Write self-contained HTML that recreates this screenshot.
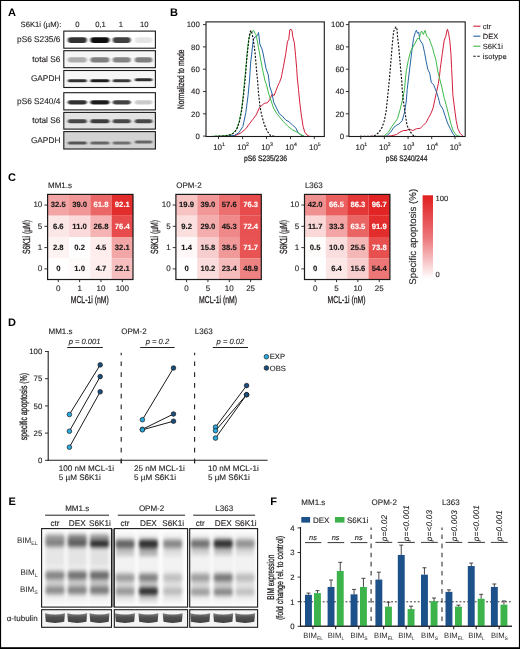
<!DOCTYPE html>
<html><head><meta charset="utf-8"><style>
html,body{margin:0;padding:0;background:#fff;overflow:hidden;width:520px;height:649px;}
svg{display:block;font-family:"Liberation Sans", sans-serif;will-change:transform;text-rendering:geometricPrecision;}
</style></head><body>
<svg width="520" height="649" viewBox="0 0 520 649">
<defs>
<filter id="blA" x="-20%" y="-80%" width="140%" height="260%"><feGaussianBlur stdDeviation="0.9,0.6"/></filter>
<filter id="blE" x="-20%" y="-20%" width="140%" height="140%"><feGaussianBlur stdDeviation="1.5,1.9"/></filter>
<filter id="blT" x="-20%" y="-50%" width="140%" height="200%"><feGaussianBlur stdDeviation="0.7"/></filter>
<linearGradient id="cbar" x1="0" y1="0" x2="0" y2="1"><stop offset="0" stop-color="#e11e1e"/><stop offset="0.5" stop-color="#ec7478"/><stop offset="1" stop-color="#ffffff"/></linearGradient>
<linearGradient id="tub" x1="0" y1="0" x2="0" y2="1"><stop offset="0" stop-color="#858585"/><stop offset="0.4" stop-color="#525252"/><stop offset="1" stop-color="#404040"/></linearGradient>
</defs>
<rect x="0" y="0" width="520" height="649" fill="#fff"/>
<text x="8" y="15.9" font-size="11" font-weight="bold" fill="#000">A</text>
<text x="61.3" y="27.3" font-size="7.7" text-anchor="end" fill="#231f20" stroke="#231f20" stroke-width="0.12">S6K1i (µM):</text>
<text x="77.5" y="27.3" font-size="7.7" text-anchor="middle" fill="#231f20" stroke="#231f20" stroke-width="0.12">0</text>
<text x="100.5" y="27.3" font-size="7.7" text-anchor="middle" fill="#231f20" stroke="#231f20" stroke-width="0.12">0,1</text>
<text x="120.8" y="27.3" font-size="7.7" text-anchor="middle" fill="#231f20" stroke="#231f20" stroke-width="0.12">1</text>
<text x="144.3" y="27.3" font-size="7.7" text-anchor="middle" fill="#231f20" stroke="#231f20" stroke-width="0.12">10</text>
<rect x="63.8" y="31.1" width="91.6" height="17.1" fill="#fff"/>
<g filter="url(#blA)">
<rect x="67.8" y="37.300000000000004" width="19" height="5.6" rx="2.8" fill="rgb(50,50,50)"/>
<rect x="90.4" y="37.300000000000004" width="19" height="5.6" rx="2.8" fill="rgb(17,17,17)"/>
<rect x="112.7" y="37.300000000000004" width="18" height="5.6" rx="2.8" fill="rgb(63,63,63)"/>
<rect x="134.85" y="37.300000000000004" width="17.5" height="5.6" rx="2.8" fill="rgb(229,229,229)"/>
</g>
<rect x="63.8" y="31.1" width="91.6" height="17.1" fill="none" stroke="#1a1a1a" stroke-width="1.1"/>
<text x="60.4" y="41.95" font-size="8.3" text-anchor="end" fill="#231f20" stroke="#231f20" stroke-width="0.12">pS6 S235/6</text>
<rect x="63.8" y="50.7" width="91.6" height="17.0" fill="#f6f6f6"/>
<g filter="url(#blA)">
<rect x="67.8" y="57.199999999999996" width="19" height="5.2" rx="2.6" fill="rgb(173,173,173)"/>
<rect x="90.4" y="57.199999999999996" width="19" height="5.2" rx="2.6" fill="rgb(127,127,127)"/>
<rect x="112.7" y="57.199999999999996" width="18" height="5.2" rx="2.6" fill="rgb(132,132,132)"/>
<rect x="134.85" y="57.199999999999996" width="17.5" height="5.2" rx="2.6" fill="rgb(127,127,127)"/>
</g>
<rect x="63.8" y="50.7" width="91.6" height="17.0" fill="none" stroke="#1a1a1a" stroke-width="1.1"/>
<text x="60.4" y="61.5" font-size="8.3" text-anchor="end" fill="#231f20" stroke="#231f20" stroke-width="0.12">total S6</text>
<rect x="63.8" y="70.5" width="91.6" height="17.0" fill="#f6f6f6"/>
<g filter="url(#blA)">
<rect x="67.8" y="79.2" width="19" height="3.0" rx="1.5" fill="rgb(50,50,50)"/>
<rect x="90.4" y="79.2" width="19" height="3.0" rx="1.5" fill="rgb(30,30,30)"/>
<rect x="112.7" y="79.2" width="18" height="3.0" rx="1.5" fill="rgb(56,56,56)"/>
<rect x="134.85" y="78.2" width="17.5" height="3.0" rx="1.5" fill="rgb(45,45,45)"/>
</g>
<rect x="63.8" y="70.5" width="91.6" height="17.0" fill="none" stroke="#1a1a1a" stroke-width="1.1"/>
<text x="60.4" y="81.3" font-size="8.3" text-anchor="end" fill="#231f20" stroke="#231f20" stroke-width="0.12">GAPDH</text>
<rect x="63.8" y="92.7" width="91.6" height="17.200000000000003" fill="#fff"/>
<g filter="url(#blA)">
<rect x="67.8" y="100.2" width="19" height="4.2" rx="2.1" fill="rgb(50,50,50)"/>
<rect x="90.4" y="100.2" width="19" height="4.2" rx="2.1" fill="rgb(30,30,30)"/>
<rect x="112.7" y="100.2" width="18" height="4.2" rx="2.1" fill="rgb(66,66,66)"/>
<rect x="134.85" y="100.2" width="17.5" height="4.2" rx="2.1" fill="rgb(204,204,204)"/>
</g>
<rect x="63.8" y="92.7" width="91.6" height="17.200000000000003" fill="none" stroke="#1a1a1a" stroke-width="1.1"/>
<text x="60.4" y="103.60000000000001" font-size="8.3" text-anchor="end" fill="#231f20" stroke="#231f20" stroke-width="0.12">pS6 S240/4</text>
<rect x="63.8" y="112.4" width="91.6" height="16.69999999999999" fill="#e3e3e3"/>
<g filter="url(#blA)">
<rect x="67.8" y="119.2" width="19" height="4.0" rx="2.0" fill="rgb(71,71,71)"/>
<rect x="90.4" y="119.2" width="19" height="4.0" rx="2.0" fill="rgb(61,61,61)"/>
<rect x="112.7" y="119.2" width="18" height="4.0" rx="2.0" fill="rgb(71,71,71)"/>
<rect x="134.85" y="119.2" width="17.5" height="4.0" rx="2.0" fill="rgb(71,71,71)"/>
</g>
<rect x="63.8" y="112.4" width="91.6" height="16.69999999999999" fill="none" stroke="#1a1a1a" stroke-width="1.1"/>
<text x="60.4" y="123.05" font-size="8.3" text-anchor="end" fill="#231f20" stroke="#231f20" stroke-width="0.12">total S6</text>
<rect x="63.8" y="131.6" width="91.6" height="17.400000000000006" fill="#d3d3d3"/>
<g filter="url(#blA)">
<rect x="67.8" y="141.4" width="19" height="3.0" rx="1.5" fill="rgb(86,86,86)"/>
<rect x="90.4" y="141.4" width="19" height="3.0" rx="1.5" fill="rgb(102,102,102)"/>
<rect x="112.7" y="141.4" width="18" height="3.0" rx="1.5" fill="rgb(112,112,112)"/>
<rect x="134.85" y="140.4" width="17.5" height="3.0" rx="1.5" fill="rgb(102,102,102)"/>
</g>
<rect x="63.8" y="131.6" width="91.6" height="17.400000000000006" fill="none" stroke="#1a1a1a" stroke-width="1.1"/>
<text x="60.4" y="142.60000000000002" font-size="8.3" text-anchor="end" fill="#231f20" stroke="#231f20" stroke-width="0.12">GAPDH</text>
<text x="170" y="15.9" font-size="11" font-weight="bold" fill="#000">B</text>
<polyline points="225.0,136.3 231.9,136.2 236.5,135.1 241.2,132.8 245.8,128.8 249.2,124.2 252.7,119.5 256.2,114.9 259.6,107.4 264.2,103.4 267.3,102.8 269.6,99.9 271.9,94.7 274.2,95.3 276.0,90.7 277.7,86.1 279.4,82.6 281.2,78.0 281.7,75.4 283.5,66.2 285.8,53.5 287.5,41.3 288.7,39.6 289.8,29.8 291.0,29.2 292.1,31.0 292.7,36.2 294.4,43.1 295.6,55.8 296.7,68.5 297.3,78.0 298.5,89.5 299.6,101.0 301.3,114.9 303.1,126.5 304.8,132.2 307.1,135.1 309.4,136.3 312.0,136.5" fill="none" stroke="#d41f3c" stroke-width="1.0" stroke-linejoin="round"/>
<polyline points="222.0,136.3 228.0,136.0 234.2,135.5 238.8,132.8 242.9,126.5 245.8,112.6 248.1,95.3 249.6,79.0 250.7,62.0 251.6,55.0 252.5,46.0 253.5,39.0 255.0,37.0 256.5,36.5 257.6,35.5 258.5,32.5 259.2,38.0 259.8,44.0 261.9,48.8 263.0,53.0 264.2,59.2 266.0,68.5 268.3,75.0 269.6,86.1 271.9,93.0 273.7,102.2 276.5,108.0 279.4,113.8 282.3,116.1 285.8,120.1 289.2,121.8 292.7,125.3 295.6,127.6 297.9,132.2 300.8,135.1 304.2,136.3" fill="none" stroke="#2463a2" stroke-width="1.0" stroke-linejoin="round"/>
<polyline points="212.0,136.3 220.0,136.0 228.0,135.3 232.0,134.0 236.3,129.8 239.2,121.5 241.5,110.0 243.3,95.0 244.6,80.0 245.8,68.5 247.2,52.0 248.7,39.6 250.5,33.0 252.0,31.5 253.8,30.6 255.0,33.5 256.2,35.0 257.5,42.0 258.5,47.7 260.2,57.0 261.9,66.2 264.8,80.0 266.5,84.9 268.8,94.2 271.2,101.0 273.5,108.0 276.9,113.8 280.0,117.5 283.5,121.8 288.1,126.5 292.7,130.0 297.3,132.2 300.8,134.5 304.2,136.3" fill="none" stroke="#3dba4a" stroke-width="1.0" stroke-linejoin="round"/>
<polyline points="215.0,136.3 225.0,136.0 231.9,134.5 236.5,130.0 239.4,121.8 241.7,110.3 243.5,95.3 245.2,79.0 246.9,58.0 248.7,40.8 249.8,32.7 251.0,30.4 252.0,33.0 253.3,39.6 255.0,52.3 256.7,72.0 257.5,80.0 258.5,93.0 260.2,108.0 261.9,116.0 264.2,124.2 267.1,131.0 270.6,135.7 275.0,136.3" fill="none" stroke="#111" stroke-width="1.15" stroke-linejoin="round" stroke-dasharray="2,1.5"/>
<rect x="206.0" y="21.9" width="118.30000000000001" height="114.6" fill="none" stroke="#1a1a1a" stroke-width="1.1"/>
<line x1="203.0" y1="24.6" x2="206.0" y2="24.6" stroke="#231f20" stroke-width="0.9"/>
<text x="199.8" y="27.400000000000002" font-size="7.8" text-anchor="end" fill="#231f20" stroke="#231f20" stroke-width="0.12">100</text>
<line x1="203.0" y1="46.900000000000006" x2="206.0" y2="46.900000000000006" stroke="#231f20" stroke-width="0.9"/>
<text x="199.8" y="49.7" font-size="7.8" text-anchor="end" fill="#231f20" stroke="#231f20" stroke-width="0.12">80</text>
<line x1="203.0" y1="69.2" x2="206.0" y2="69.2" stroke="#231f20" stroke-width="0.9"/>
<text x="199.8" y="72.0" font-size="7.8" text-anchor="end" fill="#231f20" stroke="#231f20" stroke-width="0.12">60</text>
<line x1="203.0" y1="91.5" x2="206.0" y2="91.5" stroke="#231f20" stroke-width="0.9"/>
<text x="199.8" y="94.3" font-size="7.8" text-anchor="end" fill="#231f20" stroke="#231f20" stroke-width="0.12">40</text>
<line x1="203.0" y1="113.80000000000001" x2="206.0" y2="113.80000000000001" stroke="#231f20" stroke-width="0.9"/>
<text x="199.8" y="116.60000000000001" font-size="7.8" text-anchor="end" fill="#231f20" stroke="#231f20" stroke-width="0.12">20</text>
<line x1="203.0" y1="136.1" x2="206.0" y2="136.1" stroke="#231f20" stroke-width="0.9"/>
<text x="199.8" y="138.9" font-size="7.8" text-anchor="end" fill="#231f20" stroke="#231f20" stroke-width="0.12">0</text>
<line x1="218.5" y1="136.5" x2="218.5" y2="139.1" stroke="#231f20" stroke-width="0.9"/>
<text x="217.6" y="149.7" font-size="8" text-anchor="middle" fill="#231f20" stroke="#231f20" stroke-width="0.12">10</text>
<text x="221.9" y="145.6" font-size="5.2" fill="#231f20" stroke="#231f20" stroke-width="0.12">1</text>
<line x1="242.6" y1="136.5" x2="242.6" y2="139.1" stroke="#231f20" stroke-width="0.9"/>
<text x="241.7" y="149.7" font-size="8" text-anchor="middle" fill="#231f20" stroke="#231f20" stroke-width="0.12">10</text>
<text x="246.0" y="145.6" font-size="5.2" fill="#231f20" stroke="#231f20" stroke-width="0.12">2</text>
<line x1="266.5" y1="136.5" x2="266.5" y2="139.1" stroke="#231f20" stroke-width="0.9"/>
<text x="265.6" y="149.7" font-size="8" text-anchor="middle" fill="#231f20" stroke="#231f20" stroke-width="0.12">10</text>
<text x="269.9" y="145.6" font-size="5.2" fill="#231f20" stroke="#231f20" stroke-width="0.12">3</text>
<line x1="290.5" y1="136.5" x2="290.5" y2="139.1" stroke="#231f20" stroke-width="0.9"/>
<text x="289.6" y="149.7" font-size="8" text-anchor="middle" fill="#231f20" stroke="#231f20" stroke-width="0.12">10</text>
<text x="293.9" y="145.6" font-size="5.2" fill="#231f20" stroke="#231f20" stroke-width="0.12">4</text>
<line x1="314.3" y1="136.5" x2="314.3" y2="139.1" stroke="#231f20" stroke-width="0.9"/>
<text x="313.40000000000003" y="149.7" font-size="8" text-anchor="middle" fill="#231f20" stroke="#231f20" stroke-width="0.12">10</text>
<text x="317.7" y="145.6" font-size="5.2" fill="#231f20" stroke="#231f20" stroke-width="0.12">5</text>
<text x="265.45" y="160.5" font-size="8" text-anchor="middle" fill="#231f20" textLength="43" lengthAdjust="spacingAndGlyphs" stroke="#231f20" stroke-width="0.28">pS6 S235/236</text>
<polyline points="370.0,136.3 387.2,136.3 391.8,135.7 396.5,134.5 399.9,132.2 403.4,130.5 406.0,130.5 409.5,129.3 412.9,130.5 416.4,128.8 420.4,128.2 423.3,125.3 426.2,122.4 428.5,117.8 430.8,113.8 433.1,108.0 434.8,99.9 436.6,91.8 438.3,83.8 439.5,76.0 440.3,68.5 442.3,53.5 444.1,40.8 445.8,36.2 447.0,30.4 447.5,29.2 448.7,33.8 449.8,40.8 451.0,54.6 451.6,68.5 452.2,80.0 452.9,95.3 454.5,108.0 456.2,120.7 457.9,128.8 460.2,133.4 463.1,136.3" fill="none" stroke="#d41f3c" stroke-width="1.0" stroke-linejoin="round"/>
<polyline points="378.0,136.3 386.1,136.3 390.7,132.2 393.6,127.6 396.5,125.3 398.8,124.2 402.2,120.7 404.5,112.6 406.3,101.0 407.2,89.5 408.3,80.0 410.0,66.2 411.8,51.2 413.5,38.5 415.2,32.7 416.4,30.2 417.5,33.3 418.7,32.1 419.8,39.6 421.0,41.9 422.7,44.2 424.5,52.3 426.2,61.5 427.9,69.6 429.7,73.1 430.5,78.0 431.4,82.6 433.7,84.9 436.0,90.7 438.3,97.6 440.0,104.5 442.9,109.2 445.2,116.1 447.5,123.0 450.4,128.8 453.3,134.5 455.6,136.3" fill="none" stroke="#2463a2" stroke-width="1.0" stroke-linejoin="round"/>
<polyline points="375.0,136.3 383.8,136.3 388.4,132.2 391.8,126.5 395.3,121.8 397.6,118.4 399.9,110.3 402.2,101.0 404.5,89.5 405.5,78.0 406.3,70.8 408.3,60.4 410.6,51.2 412.9,47.1 415.2,43.1 417.5,38.5 419.3,38.5 420.4,33.8 421.6,31.0 423.3,34.4 425.0,30.4 426.8,36.2 429.1,38.5 430.8,43.1 432.5,47.7 434.3,54.6 436.0,60.4 437.7,70.8 439.5,78.0 441.8,87.2 444.1,97.6 446.4,105.7 448.7,115.0 451.0,124.2 453.3,131.1 456.8,135.7 460.2,136.3" fill="none" stroke="#3dba4a" stroke-width="1.0" stroke-linejoin="round"/>
<polyline points="360.0,136.3 371.1,136.3 374.5,135.7 378.6,132.8 382.0,127.6 384.3,120.7 386.1,111.5 387.2,101.0 388.4,89.5 389.5,78.0 390.7,63.8 392.4,43.1 393.6,31.5 394.7,29.2 395.9,26.9 397.0,29.2 397.6,37.3 398.8,47.7 399.9,60.4 401.1,74.2 401.7,80.0 402.2,89.5 403.4,101.0 405.1,112.6 406.8,124.2 408.0,127.6 410.6,132.2 413.5,135.7 416.0,136.3" fill="none" stroke="#111" stroke-width="1.15" stroke-linejoin="round" stroke-dasharray="2,1.5"/>
<rect x="348.9" y="21.9" width="116.30000000000001" height="114.6" fill="none" stroke="#1a1a1a" stroke-width="1.1"/>
<line x1="345.9" y1="24.6" x2="348.9" y2="24.6" stroke="#231f20" stroke-width="0.9"/>
<text x="344.09999999999997" y="27.400000000000002" font-size="7.8" text-anchor="end" fill="#231f20" stroke="#231f20" stroke-width="0.12">100</text>
<line x1="345.9" y1="46.900000000000006" x2="348.9" y2="46.900000000000006" stroke="#231f20" stroke-width="0.9"/>
<text x="344.09999999999997" y="49.7" font-size="7.8" text-anchor="end" fill="#231f20" stroke="#231f20" stroke-width="0.12">80</text>
<line x1="345.9" y1="69.2" x2="348.9" y2="69.2" stroke="#231f20" stroke-width="0.9"/>
<text x="344.09999999999997" y="72.0" font-size="7.8" text-anchor="end" fill="#231f20" stroke="#231f20" stroke-width="0.12">60</text>
<line x1="345.9" y1="91.5" x2="348.9" y2="91.5" stroke="#231f20" stroke-width="0.9"/>
<text x="344.09999999999997" y="94.3" font-size="7.8" text-anchor="end" fill="#231f20" stroke="#231f20" stroke-width="0.12">40</text>
<line x1="345.9" y1="113.80000000000001" x2="348.9" y2="113.80000000000001" stroke="#231f20" stroke-width="0.9"/>
<text x="344.09999999999997" y="116.60000000000001" font-size="7.8" text-anchor="end" fill="#231f20" stroke="#231f20" stroke-width="0.12">20</text>
<line x1="345.9" y1="136.1" x2="348.9" y2="136.1" stroke="#231f20" stroke-width="0.9"/>
<text x="344.09999999999997" y="138.9" font-size="7.8" text-anchor="end" fill="#231f20" stroke="#231f20" stroke-width="0.12">0</text>
<line x1="360.8" y1="136.5" x2="360.8" y2="139.1" stroke="#231f20" stroke-width="0.9"/>
<text x="359.90000000000003" y="149.7" font-size="8" text-anchor="middle" fill="#231f20" stroke="#231f20" stroke-width="0.12">10</text>
<text x="364.2" y="145.6" font-size="5.2" fill="#231f20" stroke="#231f20" stroke-width="0.12">1</text>
<line x1="384.4" y1="136.5" x2="384.4" y2="139.1" stroke="#231f20" stroke-width="0.9"/>
<text x="383.5" y="149.7" font-size="8" text-anchor="middle" fill="#231f20" stroke="#231f20" stroke-width="0.12">10</text>
<text x="387.79999999999995" y="145.6" font-size="5.2" fill="#231f20" stroke="#231f20" stroke-width="0.12">2</text>
<line x1="408.1" y1="136.5" x2="408.1" y2="139.1" stroke="#231f20" stroke-width="0.9"/>
<text x="407.20000000000005" y="149.7" font-size="8" text-anchor="middle" fill="#231f20" stroke="#231f20" stroke-width="0.12">10</text>
<text x="411.5" y="145.6" font-size="5.2" fill="#231f20" stroke="#231f20" stroke-width="0.12">3</text>
<line x1="431.7" y1="136.5" x2="431.7" y2="139.1" stroke="#231f20" stroke-width="0.9"/>
<text x="430.8" y="149.7" font-size="8" text-anchor="middle" fill="#231f20" stroke="#231f20" stroke-width="0.12">10</text>
<text x="435.09999999999997" y="145.6" font-size="5.2" fill="#231f20" stroke="#231f20" stroke-width="0.12">4</text>
<line x1="455.0" y1="136.5" x2="455.0" y2="139.1" stroke="#231f20" stroke-width="0.9"/>
<text x="454.1" y="149.7" font-size="8" text-anchor="middle" fill="#231f20" stroke="#231f20" stroke-width="0.12">10</text>
<text x="458.4" y="145.6" font-size="5.2" fill="#231f20" stroke="#231f20" stroke-width="0.12">5</text>
<text x="406.54999999999995" y="160.5" font-size="8" text-anchor="middle" fill="#231f20" textLength="41.5" lengthAdjust="spacingAndGlyphs" stroke="#231f20" stroke-width="0.28">pS6 S240/244</text>
<text transform="translate(183.8,79.2) rotate(-90)" font-size="9.5" text-anchor="middle" fill="#231f20" stroke="#231f20" stroke-width="0.3" textLength="59.5" lengthAdjust="spacingAndGlyphs">Normalized to mode</text>
<line x1="473.3" y1="26.2" x2="480.4" y2="26.2" stroke="#d41f3c" stroke-width="1.1"/>
<text x="482.8" y="28.9" font-size="7.5" fill="#231f20" stroke="#231f20" stroke-width="0.12">ctr</text>
<line x1="473.3" y1="36.2" x2="480.4" y2="36.2" stroke="#2463a2" stroke-width="1.1"/>
<text x="482.8" y="38.900000000000006" font-size="7.5" fill="#231f20" stroke="#231f20" stroke-width="0.12">DEX</text>
<line x1="473.3" y1="46.2" x2="480.4" y2="46.2" stroke="#3dba4a" stroke-width="1.1"/>
<text x="482.8" y="48.900000000000006" font-size="7.5" fill="#231f20" stroke="#231f20" stroke-width="0.12">S6K1i</text>
<line x1="473.3" y1="56.2" x2="480.4" y2="56.2" stroke="#111" stroke-width="1.1" stroke-dasharray="2.4,1.6"/>
<text x="482.8" y="58.900000000000006" font-size="7.5" fill="#231f20" stroke="#231f20" stroke-width="0.12">isotype</text>
<text x="8" y="181.0" font-size="11" font-weight="bold" fill="#000">C</text>
<text x="48.0" y="187.8" font-size="8" fill="#231f20" stroke="#231f20" stroke-width="0.12">MM1.s</text>
<rect x="47.6" y="194.4" width="21.400000000000002" height="21.330000000000002" fill="rgb(243,165,165)"/>
<text x="58.275000000000006" y="207.24" font-size="7.7" font-weight="bold" text-anchor="middle" fill="#151515" stroke="#151515" stroke-width="0.12">32.5</text>
<rect x="68.95" y="194.4" width="21.400000000000002" height="21.330000000000002" fill="rgb(241,151,151)"/>
<text x="79.625" y="207.24" font-size="7.7" font-weight="bold" text-anchor="middle" fill="#151515" stroke="#151515" stroke-width="0.12">39.0</text>
<rect x="90.30000000000001" y="194.4" width="21.400000000000002" height="21.330000000000002" fill="rgb(235,103,103)"/>
<text x="100.97500000000001" y="207.24" font-size="7.7" font-weight="bold" text-anchor="middle" fill="#fff" stroke="#fff" stroke-width="0.12">61.8</text>
<rect x="111.65" y="194.4" width="21.400000000000002" height="21.330000000000002" fill="rgb(227,45,45)"/>
<text x="122.325" y="207.24" font-size="7.7" font-weight="bold" text-anchor="middle" fill="#fff" stroke="#fff" stroke-width="0.12">92.1</text>
<rect x="47.6" y="215.68" width="21.400000000000002" height="21.330000000000002" fill="rgb(252,231,231)"/>
<text x="58.275000000000006" y="228.51999999999998" font-size="7.7" font-weight="bold" text-anchor="middle" fill="#151515" stroke="#151515" stroke-width="0.12">6.6</text>
<rect x="68.95" y="215.68" width="21.400000000000002" height="21.330000000000002" fill="rgb(250,218,218)"/>
<text x="79.625" y="228.51999999999998" font-size="7.7" font-weight="bold" text-anchor="middle" fill="#151515" stroke="#151515" stroke-width="0.12">11.0</text>
<rect x="90.30000000000001" y="215.68" width="21.400000000000002" height="21.330000000000002" fill="rgb(245,179,179)"/>
<text x="100.97500000000001" y="228.51999999999998" font-size="7.7" font-weight="bold" text-anchor="middle" fill="#151515" stroke="#151515" stroke-width="0.12">26.8</text>
<rect x="111.65" y="215.68" width="21.400000000000002" height="21.330000000000002" fill="rgb(231,75,75)"/>
<text x="122.325" y="228.51999999999998" font-size="7.7" font-weight="bold" text-anchor="middle" fill="#fff" stroke="#fff" stroke-width="0.12">76.4</text>
<rect x="47.6" y="236.96" width="21.400000000000002" height="21.330000000000002" fill="rgb(253,243,243)"/>
<text x="58.275000000000006" y="249.8" font-size="7.7" font-weight="bold" text-anchor="middle" fill="#151515" stroke="#151515" stroke-width="0.12">2.8</text>
<rect x="68.95" y="236.96" width="21.400000000000002" height="21.330000000000002" fill="rgb(255,254,254)"/>
<text x="79.625" y="249.8" font-size="7.7" font-weight="bold" text-anchor="middle" fill="#151515" stroke="#151515" stroke-width="0.12">0.2</text>
<rect x="90.30000000000001" y="236.96" width="21.400000000000002" height="21.330000000000002" fill="rgb(253,237,237)"/>
<text x="100.97500000000001" y="249.8" font-size="7.7" font-weight="bold" text-anchor="middle" fill="#151515" stroke="#151515" stroke-width="0.12">4.5</text>
<rect x="111.65" y="236.96" width="21.400000000000002" height="21.330000000000002" fill="rgb(243,166,166)"/>
<text x="122.325" y="249.8" font-size="7.7" font-weight="bold" text-anchor="middle" fill="#151515" stroke="#151515" stroke-width="0.12">32.1</text>
<rect x="47.6" y="258.24" width="21.400000000000002" height="21.330000000000002" fill="rgb(255,255,255)"/>
<text x="58.275000000000006" y="271.08" font-size="7.7" font-weight="bold" text-anchor="middle" fill="#151515" stroke="#151515" stroke-width="0.12">0</text>
<rect x="68.95" y="258.24" width="21.400000000000002" height="21.330000000000002" fill="rgb(254,250,250)"/>
<text x="79.625" y="271.08" font-size="7.7" font-weight="bold" text-anchor="middle" fill="#151515" stroke="#151515" stroke-width="0.12">1.0</text>
<rect x="90.30000000000001" y="258.24" width="21.400000000000002" height="21.330000000000002" fill="rgb(253,237,237)"/>
<text x="100.97500000000001" y="271.08" font-size="7.7" font-weight="bold" text-anchor="middle" fill="#151515" stroke="#151515" stroke-width="0.12">4.7</text>
<rect x="111.65" y="258.24" width="21.400000000000002" height="21.330000000000002" fill="rgb(246,190,190)"/>
<text x="122.325" y="271.08" font-size="7.7" font-weight="bold" text-anchor="middle" fill="#151515" stroke="#151515" stroke-width="0.12">22.1</text>
<rect x="47.6" y="194.4" width="85.4" height="85.12" fill="none" stroke="#1a1a1a" stroke-width="1.2"/>
<line x1="44.4" y1="205.04000000000002" x2="47.6" y2="205.04000000000002" stroke="#231f20" stroke-width="0.9"/>
<text x="42.300000000000004" y="207.34000000000003" font-size="8" text-anchor="end" fill="#231f20" stroke="#231f20" stroke-width="0.12">10</text>
<line x1="44.4" y1="226.32" x2="47.6" y2="226.32" stroke="#231f20" stroke-width="0.9"/>
<text x="42.300000000000004" y="228.62" font-size="8" text-anchor="end" fill="#231f20" stroke="#231f20" stroke-width="0.12">5</text>
<line x1="44.4" y1="247.60000000000002" x2="47.6" y2="247.60000000000002" stroke="#231f20" stroke-width="0.9"/>
<text x="42.300000000000004" y="249.90000000000003" font-size="8" text-anchor="end" fill="#231f20" stroke="#231f20" stroke-width="0.12">1</text>
<line x1="44.4" y1="268.88" x2="47.6" y2="268.88" stroke="#231f20" stroke-width="0.9"/>
<text x="42.300000000000004" y="271.18" font-size="8" text-anchor="end" fill="#231f20" stroke="#231f20" stroke-width="0.12">0</text>
<line x1="58.275000000000006" y1="279.52" x2="58.275000000000006" y2="282.12" stroke="#231f20" stroke-width="0.9"/>
<text x="58.275000000000006" y="291.4" font-size="8" text-anchor="middle" fill="#231f20" stroke="#231f20" stroke-width="0.12">0</text>
<line x1="79.625" y1="279.52" x2="79.625" y2="282.12" stroke="#231f20" stroke-width="0.9"/>
<text x="79.625" y="291.4" font-size="8" text-anchor="middle" fill="#231f20" stroke="#231f20" stroke-width="0.12">1</text>
<line x1="100.97500000000001" y1="279.52" x2="100.97500000000001" y2="282.12" stroke="#231f20" stroke-width="0.9"/>
<text x="100.97500000000001" y="291.4" font-size="8" text-anchor="middle" fill="#231f20" stroke="#231f20" stroke-width="0.12">10</text>
<line x1="122.325" y1="279.52" x2="122.325" y2="282.12" stroke="#231f20" stroke-width="0.9"/>
<text x="122.325" y="291.4" font-size="8" text-anchor="middle" fill="#231f20" stroke="#231f20" stroke-width="0.12">100</text>
<text x="89.70000000000002" y="302.7" font-size="10" text-anchor="middle" fill="#231f20" textLength="38" lengthAdjust="spacingAndGlyphs" stroke="#231f20" stroke-width="0.3">MCL-1i (nM)</text>
<text transform="translate(29.6,237) rotate(-90)" font-size="10.3" text-anchor="middle" fill="#231f20" stroke="#231f20" stroke-width="0.3" textLength="34" lengthAdjust="spacingAndGlyphs">S6K1i (µM)</text>
<text x="176.3" y="187.8" font-size="8" fill="#231f20" stroke="#231f20" stroke-width="0.12">OPM-2</text>
<rect x="175.9" y="194.4" width="21.400000000000002" height="21.330000000000002" fill="rgb(247,195,195)"/>
<text x="186.57500000000002" y="207.24" font-size="7.7" font-weight="bold" text-anchor="middle" fill="#151515" stroke="#151515" stroke-width="0.12">19.9</text>
<rect x="197.25" y="194.4" width="21.400000000000002" height="21.330000000000002" fill="rgb(241,151,151)"/>
<text x="207.925" y="207.24" font-size="7.7" font-weight="bold" text-anchor="middle" fill="#151515" stroke="#151515" stroke-width="0.12">39.0</text>
<rect x="218.60000000000002" y="194.4" width="21.400000000000002" height="21.330000000000002" fill="rgb(236,112,112)"/>
<text x="229.27500000000003" y="207.24" font-size="7.7" font-weight="bold" text-anchor="middle" fill="#151515" stroke="#151515" stroke-width="0.12">57.6</text>
<rect x="239.95000000000002" y="194.4" width="21.400000000000002" height="21.330000000000002" fill="rgb(231,75,75)"/>
<text x="250.62500000000003" y="207.24" font-size="7.7" font-weight="bold" text-anchor="middle" fill="#fff" stroke="#fff" stroke-width="0.12">76.3</text>
<rect x="175.9" y="215.68" width="21.400000000000002" height="21.330000000000002" fill="rgb(251,223,223)"/>
<text x="186.57500000000002" y="228.51999999999998" font-size="7.7" font-weight="bold" text-anchor="middle" fill="#151515" stroke="#151515" stroke-width="0.12">9.2</text>
<rect x="197.25" y="215.68" width="21.400000000000002" height="21.330000000000002" fill="rgb(244,173,173)"/>
<text x="207.925" y="228.51999999999998" font-size="7.7" font-weight="bold" text-anchor="middle" fill="#151515" stroke="#151515" stroke-width="0.12">29.0</text>
<rect x="218.60000000000002" y="215.68" width="21.400000000000002" height="21.330000000000002" fill="rgb(239,137,137)"/>
<text x="229.27500000000003" y="228.51999999999998" font-size="7.7" font-weight="bold" text-anchor="middle" fill="#151515" stroke="#151515" stroke-width="0.12">45.3</text>
<rect x="239.95000000000002" y="215.68" width="21.400000000000002" height="21.330000000000002" fill="rgb(232,82,82)"/>
<text x="250.62500000000003" y="228.51999999999998" font-size="7.7" font-weight="bold" text-anchor="middle" fill="#fff" stroke="#fff" stroke-width="0.12">72.4</text>
<rect x="175.9" y="236.96" width="21.400000000000002" height="21.330000000000002" fill="rgb(254,248,248)"/>
<text x="186.57500000000002" y="249.8" font-size="7.7" font-weight="bold" text-anchor="middle" fill="#151515" stroke="#151515" stroke-width="0.12">1.4</text>
<rect x="197.25" y="236.96" width="21.400000000000002" height="21.330000000000002" fill="rgb(248,205,205)"/>
<text x="207.925" y="249.8" font-size="7.7" font-weight="bold" text-anchor="middle" fill="#151515" stroke="#151515" stroke-width="0.12">15.8</text>
<rect x="218.60000000000002" y="236.96" width="21.400000000000002" height="21.330000000000002" fill="rgb(241,152,152)"/>
<text x="229.27500000000003" y="249.8" font-size="7.7" font-weight="bold" text-anchor="middle" fill="#151515" stroke="#151515" stroke-width="0.12">38.5</text>
<rect x="239.95000000000002" y="236.96" width="21.400000000000002" height="21.330000000000002" fill="rgb(232,84,84)"/>
<text x="250.62500000000003" y="249.8" font-size="7.7" font-weight="bold" text-anchor="middle" fill="#fff" stroke="#fff" stroke-width="0.12">71.7</text>
<rect x="175.9" y="258.24" width="21.400000000000002" height="21.330000000000002" fill="rgb(255,255,255)"/>
<text x="186.57500000000002" y="271.08" font-size="7.7" font-weight="bold" text-anchor="middle" fill="#151515" stroke="#151515" stroke-width="0.12">0</text>
<rect x="197.25" y="258.24" width="21.400000000000002" height="21.330000000000002" fill="rgb(250,220,220)"/>
<text x="207.925" y="271.08" font-size="7.7" font-weight="bold" text-anchor="middle" fill="#151515" stroke="#151515" stroke-width="0.12">10.2</text>
<rect x="218.60000000000002" y="258.24" width="21.400000000000002" height="21.330000000000002" fill="rgb(246,187,187)"/>
<text x="229.27500000000003" y="271.08" font-size="7.7" font-weight="bold" text-anchor="middle" fill="#151515" stroke="#151515" stroke-width="0.12">23.4</text>
<rect x="239.95000000000002" y="258.24" width="21.400000000000002" height="21.330000000000002" fill="rgb(238,130,130)"/>
<text x="250.62500000000003" y="271.08" font-size="7.7" font-weight="bold" text-anchor="middle" fill="#151515" stroke="#151515" stroke-width="0.12">48.9</text>
<rect x="175.9" y="194.4" width="85.4" height="85.12" fill="none" stroke="#1a1a1a" stroke-width="1.2"/>
<line x1="172.70000000000002" y1="205.04000000000002" x2="175.9" y2="205.04000000000002" stroke="#231f20" stroke-width="0.9"/>
<text x="170.6" y="207.34000000000003" font-size="8" text-anchor="end" fill="#231f20" stroke="#231f20" stroke-width="0.12">10</text>
<line x1="172.70000000000002" y1="226.32" x2="175.9" y2="226.32" stroke="#231f20" stroke-width="0.9"/>
<text x="170.6" y="228.62" font-size="8" text-anchor="end" fill="#231f20" stroke="#231f20" stroke-width="0.12">5</text>
<line x1="172.70000000000002" y1="247.60000000000002" x2="175.9" y2="247.60000000000002" stroke="#231f20" stroke-width="0.9"/>
<text x="170.6" y="249.90000000000003" font-size="8" text-anchor="end" fill="#231f20" stroke="#231f20" stroke-width="0.12">1</text>
<line x1="172.70000000000002" y1="268.88" x2="175.9" y2="268.88" stroke="#231f20" stroke-width="0.9"/>
<text x="170.6" y="271.18" font-size="8" text-anchor="end" fill="#231f20" stroke="#231f20" stroke-width="0.12">0</text>
<line x1="186.57500000000002" y1="279.52" x2="186.57500000000002" y2="282.12" stroke="#231f20" stroke-width="0.9"/>
<text x="186.57500000000002" y="291.4" font-size="8" text-anchor="middle" fill="#231f20" stroke="#231f20" stroke-width="0.12">0</text>
<line x1="207.925" y1="279.52" x2="207.925" y2="282.12" stroke="#231f20" stroke-width="0.9"/>
<text x="207.925" y="291.4" font-size="8" text-anchor="middle" fill="#231f20" stroke="#231f20" stroke-width="0.12">5</text>
<line x1="229.27500000000003" y1="279.52" x2="229.27500000000003" y2="282.12" stroke="#231f20" stroke-width="0.9"/>
<text x="229.27500000000003" y="291.4" font-size="8" text-anchor="middle" fill="#231f20" stroke="#231f20" stroke-width="0.12">10</text>
<line x1="250.62500000000003" y1="279.52" x2="250.62500000000003" y2="282.12" stroke="#231f20" stroke-width="0.9"/>
<text x="250.62500000000003" y="291.4" font-size="8" text-anchor="middle" fill="#231f20" stroke="#231f20" stroke-width="0.12">25</text>
<text x="218.00000000000003" y="302.7" font-size="10" text-anchor="middle" fill="#231f20" textLength="38" lengthAdjust="spacingAndGlyphs" stroke="#231f20" stroke-width="0.3">MCL-1i (nM)</text>
<text transform="translate(157.9,237) rotate(-90)" font-size="10.3" text-anchor="middle" fill="#231f20" stroke="#231f20" stroke-width="0.3" textLength="34" lengthAdjust="spacingAndGlyphs">S6K1i (µM)</text>
<text x="304.9" y="187.8" font-size="8" fill="#231f20" stroke="#231f20" stroke-width="0.12">L363</text>
<rect x="304.5" y="194.4" width="21.400000000000002" height="21.330000000000002" fill="rgb(240,145,145)"/>
<text x="315.175" y="207.24" font-size="7.7" font-weight="bold" text-anchor="middle" fill="#151515" stroke="#151515" stroke-width="0.12">42.0</text>
<rect x="325.85" y="194.4" width="21.400000000000002" height="21.330000000000002" fill="rgb(234,94,94)"/>
<text x="336.52500000000003" y="207.24" font-size="7.7" font-weight="bold" text-anchor="middle" fill="#fff" stroke="#fff" stroke-width="0.12">66.5</text>
<rect x="347.2" y="194.4" width="21.400000000000002" height="21.330000000000002" fill="rgb(228,56,56)"/>
<text x="357.875" y="207.24" font-size="7.7" font-weight="bold" text-anchor="middle" fill="#fff" stroke="#fff" stroke-width="0.12">86.3</text>
<rect x="368.55" y="194.4" width="21.400000000000002" height="21.330000000000002" fill="rgb(226,36,36)"/>
<text x="379.225" y="207.24" font-size="7.7" font-weight="bold" text-anchor="middle" fill="#fff" stroke="#fff" stroke-width="0.12">96.7</text>
<rect x="304.5" y="215.68" width="21.400000000000002" height="21.330000000000002" fill="rgb(250,216,216)"/>
<text x="315.175" y="228.51999999999998" font-size="7.7" font-weight="bold" text-anchor="middle" fill="#151515" stroke="#151515" stroke-width="0.12">11.7</text>
<rect x="325.85" y="215.68" width="21.400000000000002" height="21.330000000000002" fill="rgb(243,164,164)"/>
<text x="336.52500000000003" y="228.51999999999998" font-size="7.7" font-weight="bold" text-anchor="middle" fill="#151515" stroke="#151515" stroke-width="0.12">33.3</text>
<rect x="347.2" y="215.68" width="21.400000000000002" height="21.330000000000002" fill="rgb(234,100,100)"/>
<text x="357.875" y="228.51999999999998" font-size="7.7" font-weight="bold" text-anchor="middle" fill="#fff" stroke="#fff" stroke-width="0.12">63.5</text>
<rect x="368.55" y="215.68" width="21.400000000000002" height="21.330000000000002" fill="rgb(227,45,45)"/>
<text x="379.225" y="228.51999999999998" font-size="7.7" font-weight="bold" text-anchor="middle" fill="#fff" stroke="#fff" stroke-width="0.12">91.9</text>
<rect x="304.5" y="236.96" width="21.400000000000002" height="21.330000000000002" fill="rgb(255,252,252)"/>
<text x="315.175" y="249.8" font-size="7.7" font-weight="bold" text-anchor="middle" fill="#151515" stroke="#151515" stroke-width="0.12">0.5</text>
<rect x="325.85" y="236.96" width="21.400000000000002" height="21.330000000000002" fill="rgb(250,221,221)"/>
<text x="336.52500000000003" y="249.8" font-size="7.7" font-weight="bold" text-anchor="middle" fill="#151515" stroke="#151515" stroke-width="0.12">10.0</text>
<rect x="347.2" y="236.96" width="21.400000000000002" height="21.330000000000002" fill="rgb(245,182,182)"/>
<text x="357.875" y="249.8" font-size="7.7" font-weight="bold" text-anchor="middle" fill="#151515" stroke="#151515" stroke-width="0.12">25.5</text>
<rect x="368.55" y="236.96" width="21.400000000000002" height="21.330000000000002" fill="rgb(232,80,80)"/>
<text x="379.225" y="249.8" font-size="7.7" font-weight="bold" text-anchor="middle" fill="#fff" stroke="#fff" stroke-width="0.12">73.8</text>
<rect x="304.5" y="258.24" width="21.400000000000002" height="21.330000000000002" fill="rgb(255,255,255)"/>
<text x="315.175" y="271.08" font-size="7.7" font-weight="bold" text-anchor="middle" fill="#151515" stroke="#151515" stroke-width="0.12">0</text>
<rect x="325.85" y="258.24" width="21.400000000000002" height="21.330000000000002" fill="rgb(252,231,231)"/>
<text x="336.52500000000003" y="271.08" font-size="7.7" font-weight="bold" text-anchor="middle" fill="#151515" stroke="#151515" stroke-width="0.12">6.4</text>
<rect x="347.2" y="258.24" width="21.400000000000002" height="21.330000000000002" fill="rgb(248,206,206)"/>
<text x="357.875" y="271.08" font-size="7.7" font-weight="bold" text-anchor="middle" fill="#151515" stroke="#151515" stroke-width="0.12">15.6</text>
<rect x="368.55" y="258.24" width="21.400000000000002" height="21.330000000000002" fill="rgb(237,118,118)"/>
<text x="379.225" y="271.08" font-size="7.7" font-weight="bold" text-anchor="middle" fill="#151515" stroke="#151515" stroke-width="0.12">54.4</text>
<rect x="304.5" y="194.4" width="85.4" height="85.12" fill="none" stroke="#1a1a1a" stroke-width="1.2"/>
<line x1="301.3" y1="205.04000000000002" x2="304.5" y2="205.04000000000002" stroke="#231f20" stroke-width="0.9"/>
<text x="299.2" y="207.34000000000003" font-size="8" text-anchor="end" fill="#231f20" stroke="#231f20" stroke-width="0.12">10</text>
<line x1="301.3" y1="226.32" x2="304.5" y2="226.32" stroke="#231f20" stroke-width="0.9"/>
<text x="299.2" y="228.62" font-size="8" text-anchor="end" fill="#231f20" stroke="#231f20" stroke-width="0.12">5</text>
<line x1="301.3" y1="247.60000000000002" x2="304.5" y2="247.60000000000002" stroke="#231f20" stroke-width="0.9"/>
<text x="299.2" y="249.90000000000003" font-size="8" text-anchor="end" fill="#231f20" stroke="#231f20" stroke-width="0.12">1</text>
<line x1="301.3" y1="268.88" x2="304.5" y2="268.88" stroke="#231f20" stroke-width="0.9"/>
<text x="299.2" y="271.18" font-size="8" text-anchor="end" fill="#231f20" stroke="#231f20" stroke-width="0.12">0</text>
<line x1="315.175" y1="279.52" x2="315.175" y2="282.12" stroke="#231f20" stroke-width="0.9"/>
<text x="315.175" y="291.4" font-size="8" text-anchor="middle" fill="#231f20" stroke="#231f20" stroke-width="0.12">0</text>
<line x1="336.52500000000003" y1="279.52" x2="336.52500000000003" y2="282.12" stroke="#231f20" stroke-width="0.9"/>
<text x="336.52500000000003" y="291.4" font-size="8" text-anchor="middle" fill="#231f20" stroke="#231f20" stroke-width="0.12">5</text>
<line x1="357.875" y1="279.52" x2="357.875" y2="282.12" stroke="#231f20" stroke-width="0.9"/>
<text x="357.875" y="291.4" font-size="8" text-anchor="middle" fill="#231f20" stroke="#231f20" stroke-width="0.12">10</text>
<line x1="379.225" y1="279.52" x2="379.225" y2="282.12" stroke="#231f20" stroke-width="0.9"/>
<text x="379.225" y="291.4" font-size="8" text-anchor="middle" fill="#231f20" stroke="#231f20" stroke-width="0.12">25</text>
<text x="346.59999999999997" y="302.7" font-size="10" text-anchor="middle" fill="#231f20" textLength="38" lengthAdjust="spacingAndGlyphs" stroke="#231f20" stroke-width="0.3">MCL-1i (nM)</text>
<text transform="translate(286.5,237) rotate(-90)" font-size="10.3" text-anchor="middle" fill="#231f20" stroke="#231f20" stroke-width="0.3" textLength="34" lengthAdjust="spacingAndGlyphs">S6K1i (µM)</text>
<rect x="422.6" y="195.3" width="10.4" height="83.4" fill="url(#cbar)"/>
<text x="435.6" y="200.8" font-size="7.6" fill="#231f20" stroke="#231f20" stroke-width="0.12">100</text>
<text x="435.6" y="276.6" font-size="7.6" fill="#231f20" stroke="#231f20" stroke-width="0.12">0</text>
<text transform="translate(416.3,236.8) rotate(-90)" font-size="9.7" text-anchor="middle" fill="#231f20" stroke="#231f20" stroke-width="0.12">Specific apoptosis (%)</text>
<text x="8" y="325.5" font-size="11" font-weight="bold" fill="#000">D</text>
<line x1="48.2" y1="351.0" x2="48.2" y2="460.8" stroke="#231f20" stroke-width="1.1"/>
<line x1="47.7" y1="460.3" x2="267.6" y2="460.3" stroke="#231f20" stroke-width="1.1"/>
<line x1="45.0" y1="460.3" x2="48.2" y2="460.3" stroke="#231f20" stroke-width="0.9"/>
<text x="42.3" y="463.0" font-size="7.8" text-anchor="end" fill="#231f20" stroke="#231f20" stroke-width="0.12">0</text>
<line x1="45.0" y1="433.1" x2="48.2" y2="433.1" stroke="#231f20" stroke-width="0.9"/>
<text x="42.3" y="435.8" font-size="7.8" text-anchor="end" fill="#231f20" stroke="#231f20" stroke-width="0.12">25</text>
<line x1="45.0" y1="405.9" x2="48.2" y2="405.9" stroke="#231f20" stroke-width="0.9"/>
<text x="42.3" y="408.59999999999997" font-size="7.8" text-anchor="end" fill="#231f20" stroke="#231f20" stroke-width="0.12">50</text>
<line x1="45.0" y1="378.7" x2="48.2" y2="378.7" stroke="#231f20" stroke-width="0.9"/>
<text x="42.3" y="381.4" font-size="7.8" text-anchor="end" fill="#231f20" stroke="#231f20" stroke-width="0.12">75</text>
<line x1="45.0" y1="351.5" x2="48.2" y2="351.5" stroke="#231f20" stroke-width="0.9"/>
<text x="42.3" y="354.2" font-size="7.8" text-anchor="end" fill="#231f20" stroke="#231f20" stroke-width="0.12">100</text>
<text transform="translate(27.3,406.6) rotate(-90)" font-size="10" text-anchor="middle" fill="#231f20" stroke="#231f20" stroke-width="0.3" textLength="67.2" lengthAdjust="spacingAndGlyphs">specific apoptosis (%)</text>
<line x1="121.2" y1="352.7" x2="121.2" y2="464" stroke="#231f20" stroke-width="1.1" stroke-dasharray="4.7,6.1" stroke-dashoffset="2.1"/>
<line x1="121.2" y1="460.3" x2="121.2" y2="463.3" stroke="#231f20" stroke-width="1.0"/>
<line x1="194.6" y1="352.7" x2="194.6" y2="464" stroke="#231f20" stroke-width="1.1" stroke-dasharray="4.7,6.1" stroke-dashoffset="2.1"/>
<line x1="194.6" y1="460.3" x2="194.6" y2="463.3" stroke="#231f20" stroke-width="1.0"/>
<text x="48.5" y="333.5" font-size="8" fill="#231f20" stroke="#231f20" stroke-width="0.12">MM1.s</text>
<text x="121.3" y="333.5" font-size="8" fill="#231f20" stroke="#231f20" stroke-width="0.12">OPM-2</text>
<text x="194.8" y="333.5" font-size="8" fill="#231f20" stroke="#231f20" stroke-width="0.12">L363</text>
<text x="84.6" y="343.7" font-size="7.6" font-style="italic" text-anchor="middle" fill="#231f20" stroke="#231f20" stroke-width="0.12">p = 0.001</text>
<line x1="67.2" y1="347.5" x2="102.8" y2="347.5" stroke="#231f20" stroke-width="1.0"/>
<text x="157.4" y="343.7" font-size="7.6" font-style="italic" text-anchor="middle" fill="#231f20" stroke="#231f20" stroke-width="0.12">p = 0.2</text>
<line x1="140.2" y1="347.5" x2="174.6" y2="347.5" stroke="#231f20" stroke-width="1.0"/>
<text x="230.4" y="343.7" font-size="7.6" font-style="italic" text-anchor="middle" fill="#231f20" stroke="#231f20" stroke-width="0.12">p = 0.02</text>
<line x1="212.8" y1="347.5" x2="248.0" y2="347.5" stroke="#231f20" stroke-width="1.0"/>
<line x1="69.4" y1="414.5" x2="100.2" y2="364.9" stroke="#1a1a1a" stroke-width="1.0"/>
<line x1="69.4" y1="431.2" x2="100.2" y2="376.6" stroke="#1a1a1a" stroke-width="1.0"/>
<line x1="69.4" y1="447.2" x2="100.2" y2="391.8" stroke="#1a1a1a" stroke-width="1.0"/>
<circle cx="69.4" cy="414.5" r="2.3" fill="#29aae1" stroke="#1a1a1a" stroke-width="0.7"/>
<circle cx="100.2" cy="364.9" r="2.3" fill="#1b4e80" stroke="#1a1a1a" stroke-width="0.7"/>
<circle cx="69.4" cy="431.2" r="2.3" fill="#29aae1" stroke="#1a1a1a" stroke-width="0.7"/>
<circle cx="100.2" cy="376.6" r="2.3" fill="#1b4e80" stroke="#1a1a1a" stroke-width="0.7"/>
<circle cx="69.4" cy="447.2" r="2.3" fill="#29aae1" stroke="#1a1a1a" stroke-width="0.7"/>
<circle cx="100.2" cy="391.8" r="2.3" fill="#1b4e80" stroke="#1a1a1a" stroke-width="0.7"/>
<line x1="142.4" y1="419.7" x2="173.5" y2="368.0" stroke="#1a1a1a" stroke-width="1.0"/>
<line x1="142.4" y1="429.3" x2="173.5" y2="414.0" stroke="#1a1a1a" stroke-width="1.0"/>
<line x1="142.4" y1="429.8" x2="173.5" y2="421.2" stroke="#1a1a1a" stroke-width="1.0"/>
<circle cx="142.4" cy="419.7" r="2.3" fill="#29aae1" stroke="#1a1a1a" stroke-width="0.7"/>
<circle cx="173.5" cy="368.0" r="2.3" fill="#1b4e80" stroke="#1a1a1a" stroke-width="0.7"/>
<circle cx="142.4" cy="429.3" r="2.3" fill="#29aae1" stroke="#1a1a1a" stroke-width="0.7"/>
<circle cx="173.5" cy="414.0" r="2.3" fill="#1b4e80" stroke="#1a1a1a" stroke-width="0.7"/>
<circle cx="142.4" cy="429.8" r="2.3" fill="#29aae1" stroke="#1a1a1a" stroke-width="0.7"/>
<circle cx="173.5" cy="421.2" r="2.3" fill="#1b4e80" stroke="#1a1a1a" stroke-width="0.7"/>
<line x1="215.5" y1="427.1" x2="246.6" y2="385.6" stroke="#1a1a1a" stroke-width="1.0"/>
<line x1="215.5" y1="430.7" x2="246.6" y2="394.7" stroke="#1a1a1a" stroke-width="1.0"/>
<line x1="215.5" y1="438.1" x2="246.6" y2="394.7" stroke="#1a1a1a" stroke-width="1.0"/>
<circle cx="215.5" cy="427.1" r="2.3" fill="#29aae1" stroke="#1a1a1a" stroke-width="0.7"/>
<circle cx="246.6" cy="385.6" r="2.3" fill="#1b4e80" stroke="#1a1a1a" stroke-width="0.7"/>
<circle cx="215.5" cy="430.7" r="2.3" fill="#29aae1" stroke="#1a1a1a" stroke-width="0.7"/>
<circle cx="246.6" cy="394.7" r="2.3" fill="#1b4e80" stroke="#1a1a1a" stroke-width="0.7"/>
<circle cx="215.5" cy="438.1" r="2.3" fill="#29aae1" stroke="#1a1a1a" stroke-width="0.7"/>
<circle cx="246.6" cy="394.7" r="2.3" fill="#1b4e80" stroke="#1a1a1a" stroke-width="0.7"/>
<circle cx="266.4" cy="356.7" r="2.3" fill="#29aae1" stroke="#1a1a1a" stroke-width="0.7"/>
<circle cx="266.4" cy="368.0" r="2.3" fill="#1b4e80" stroke="#1a1a1a" stroke-width="0.7"/>
<text x="269.8" y="359.4" font-size="7.6" fill="#231f20" stroke="#231f20" stroke-width="0.12">EXP</text>
<text x="269.8" y="370.7" font-size="7.6" fill="#231f20" stroke="#231f20" stroke-width="0.12">OBS</text>
<text x="58.8" y="471.0" font-size="8.1" fill="#231f20" stroke="#231f20" stroke-width="0.12">100 nM MCL-1i</text>
<text x="58.8" y="480.4" font-size="8.1" fill="#231f20" stroke="#231f20" stroke-width="0.12">5 µM S6K1i</text>
<text x="134.0" y="471.0" font-size="8.1" fill="#231f20" stroke="#231f20" stroke-width="0.12">25 nM MCL-1i</text>
<text x="134.0" y="480.4" font-size="8.1" fill="#231f20" stroke="#231f20" stroke-width="0.12">5 µM S6K1i</text>
<text x="207.9" y="471.0" font-size="8.1" fill="#231f20" stroke="#231f20" stroke-width="0.12">10 nM MCL-1i</text>
<text x="207.9" y="480.4" font-size="8.1" fill="#231f20" stroke="#231f20" stroke-width="0.12">5 µM S6K1i</text>
<text x="8.4" y="504.6" font-size="11" font-weight="bold" fill="#000">E</text>
<rect x="111.6" y="528.6" width="2.6" height="78.6" fill="#8a8a8a"/>
<rect x="41.6" y="528.6" width="69.9" height="78.5" fill="#fdfdfd"/>
<g filter="url(#blE)">
<rect x="44.5" y="533" width="21" height="70" fill="#000" fill-opacity="0.045"/>
<rect x="66.7" y="533" width="21" height="70" fill="#000" fill-opacity="0.045"/>
<rect x="89.0" y="533" width="21" height="70" fill="#000" fill-opacity="0.045"/>
<rect x="46.0" y="548" width="18" height="18" fill="#000" fill-opacity="0.050"/>
<rect x="68.2" y="548" width="18" height="18" fill="#000" fill-opacity="0.060"/>
<rect x="90.5" y="548" width="18" height="18" fill="#000" fill-opacity="0.070"/>
<rect x="46.0" y="579" width="18" height="7" fill="#000" fill-opacity="0.120"/>
<rect x="68.2" y="579" width="18" height="7" fill="#000" fill-opacity="0.140"/>
<rect x="90.5" y="579" width="18" height="7" fill="#000" fill-opacity="0.160"/>
<rect x="45.0" y="533.1" width="20" height="15.0" rx="4" fill="#000" fill-opacity="0.076"/>
<rect x="45.4" y="535.1" width="19.2" height="11.0" rx="3" fill="#000" fill-opacity="0.334"/>
<rect x="67.2" y="533.1" width="20" height="15.0" rx="4" fill="#000" fill-opacity="0.100"/>
<rect x="67.60000000000001" y="535.1" width="19.2" height="11.0" rx="3" fill="#000" fill-opacity="0.440"/>
<rect x="89.5" y="533.1" width="20" height="15.0" rx="4" fill="#000" fill-opacity="0.084"/>
<rect x="89.9" y="535.1" width="19.2" height="11.0" rx="3" fill="#000" fill-opacity="0.370"/>
<rect x="45.0" y="539.95" width="20" height="8.5" rx="4" fill="#000" fill-opacity="0.040"/>
<rect x="45.4" y="541.95" width="19.2" height="4.5" rx="3" fill="#000" fill-opacity="0.176"/>
<rect x="67.2" y="539.95" width="20" height="8.5" rx="4" fill="#000" fill-opacity="0.070"/>
<rect x="67.60000000000001" y="541.95" width="19.2" height="4.5" rx="3" fill="#000" fill-opacity="0.308"/>
<rect x="89.5" y="539.95" width="20" height="8.5" rx="4" fill="#000" fill-opacity="0.200"/>
<rect x="89.9" y="541.95" width="19.2" height="4.5" rx="3" fill="#000" fill-opacity="0.880"/>
<rect x="45.0" y="569.45" width="20" height="11.5" rx="4" fill="#000" fill-opacity="0.092"/>
<rect x="45.4" y="571.45" width="19.2" height="7.5" rx="3" fill="#000" fill-opacity="0.405"/>
<rect x="67.2" y="569.45" width="20" height="11.5" rx="4" fill="#000" fill-opacity="0.110"/>
<rect x="67.60000000000001" y="571.45" width="19.2" height="7.5" rx="3" fill="#000" fill-opacity="0.484"/>
<rect x="89.5" y="569.45" width="20" height="11.5" rx="4" fill="#000" fill-opacity="0.116"/>
<rect x="89.9" y="571.45" width="19.2" height="7.5" rx="3" fill="#000" fill-opacity="0.510"/>
<rect x="45.0" y="584.45" width="20" height="11.5" rx="4" fill="#000" fill-opacity="0.084"/>
<rect x="45.4" y="586.45" width="19.2" height="7.5" rx="3" fill="#000" fill-opacity="0.370"/>
<rect x="67.2" y="584.45" width="20" height="11.5" rx="4" fill="#000" fill-opacity="0.092"/>
<rect x="67.60000000000001" y="586.45" width="19.2" height="7.5" rx="3" fill="#000" fill-opacity="0.405"/>
<rect x="89.5" y="584.45" width="20" height="11.5" rx="4" fill="#000" fill-opacity="0.100"/>
<rect x="89.9" y="586.45" width="19.2" height="7.5" rx="3" fill="#000" fill-opacity="0.440"/>
</g>
<rect x="41.6" y="528.6" width="69.9" height="78.5" fill="none" stroke="#1a1a1a" stroke-width="1.1"/>
<rect x="41.6" y="609.7" width="69.9" height="17.6" fill="#f4f4f4"/>
<g filter="url(#blT)">
<path d="M45.0,613.2 Q55.0,616.0 65.0,613.2 L64.2,621.8 Q55.0,624.0 45.8,621.8 Z" fill="url(#tub)"/>
<path d="M67.2,613.2 Q77.2,616.0 87.2,613.2 L86.4,621.8 Q77.2,624.0 68.0,621.8 Z" fill="url(#tub)"/>
<path d="M89.5,613.2 Q99.5,616.0 109.5,613.2 L108.7,621.8 Q99.5,624.0 90.3,621.8 Z" fill="url(#tub)"/>
</g>
<rect x="41.6" y="609.7" width="69.9" height="17.6" fill="none" stroke="#1a1a1a" stroke-width="1.1"/>
<text x="77.14999999999999" y="511.3" font-size="8" text-anchor="middle" fill="#231f20" stroke="#231f20" stroke-width="0.12">MM1.s</text>
<line x1="45.1" y1="515.2" x2="109.0" y2="515.2" stroke="#231f20" stroke-width="1.0"/>
<text x="55.0" y="525.6" font-size="8.2" text-anchor="middle" fill="#231f20" stroke="#231f20" stroke-width="0.12">ctr</text>
<text x="77.2" y="525.6" font-size="8.2" text-anchor="middle" fill="#231f20" stroke="#231f20" stroke-width="0.12">DEX</text>
<text x="100.0" y="525.6" font-size="8.2" text-anchor="middle" fill="#231f20" stroke="#231f20" stroke-width="0.12">S6K1i</text>
<rect x="114.3" y="528.6" width="73.3" height="78.5" fill="#fdfdfd"/>
<g filter="url(#blE)">
<rect x="114.5" y="533" width="21" height="70" fill="#000" fill-opacity="0.045"/>
<rect x="137.9" y="533" width="21" height="70" fill="#000" fill-opacity="0.045"/>
<rect x="162.2" y="533" width="21" height="70" fill="#000" fill-opacity="0.045"/>
<rect x="116.0" y="547" width="18" height="9" fill="#000" fill-opacity="0.180"/>
<rect x="139.4" y="547" width="18" height="9" fill="#000" fill-opacity="0.280"/>
<rect x="163.7" y="547" width="18" height="9" fill="#000" fill-opacity="0.080"/>
<rect x="116.0" y="581" width="18" height="6" fill="#000" fill-opacity="0.100"/>
<rect x="139.4" y="581" width="18" height="6" fill="#000" fill-opacity="0.140"/>
<rect x="163.7" y="581" width="18" height="6" fill="#000" fill-opacity="0.060"/>
<rect x="116.0" y="595" width="18" height="7" fill="#000" fill-opacity="0.040"/>
<rect x="139.4" y="595" width="18" height="7" fill="#000" fill-opacity="0.120"/>
<rect x="163.7" y="595" width="18" height="7" fill="#000" fill-opacity="0.030"/>
<rect x="115.0" y="538.05" width="20" height="11.5" rx="4" fill="#000" fill-opacity="0.124"/>
<rect x="115.4" y="540.05" width="19.2" height="7.5" rx="3" fill="#000" fill-opacity="0.546"/>
<rect x="138.4" y="538.05" width="20" height="11.5" rx="4" fill="#000" fill-opacity="0.180"/>
<rect x="138.8" y="540.05" width="19.2" height="7.5" rx="3" fill="#000" fill-opacity="0.792"/>
<rect x="162.7" y="538.05" width="20" height="11.5" rx="4" fill="#000" fill-opacity="0.090"/>
<rect x="163.1" y="540.05" width="19.2" height="7.5" rx="3" fill="#000" fill-opacity="0.396"/>
<rect x="115.0" y="572.0" width="20" height="11.0" rx="4" fill="#000" fill-opacity="0.072"/>
<rect x="115.4" y="574.0" width="19.2" height="7.0" rx="3" fill="#000" fill-opacity="0.317"/>
<rect x="138.4" y="572.0" width="20" height="11.0" rx="4" fill="#000" fill-opacity="0.096"/>
<rect x="138.8" y="574.0" width="19.2" height="7.0" rx="3" fill="#000" fill-opacity="0.422"/>
<rect x="162.7" y="572.0" width="20" height="11.0" rx="4" fill="#000" fill-opacity="0.040"/>
<rect x="163.1" y="574.0" width="19.2" height="7.0" rx="3" fill="#000" fill-opacity="0.176"/>
<rect x="115.0" y="585.8" width="20" height="11.0" rx="4" fill="#000" fill-opacity="0.076"/>
<rect x="115.4" y="587.8" width="19.2" height="7.0" rx="3" fill="#000" fill-opacity="0.334"/>
<rect x="138.4" y="585.8" width="20" height="11.0" rx="4" fill="#000" fill-opacity="0.180"/>
<rect x="138.8" y="587.8" width="19.2" height="7.0" rx="3" fill="#000" fill-opacity="0.792"/>
<rect x="162.7" y="585.8" width="20" height="11.0" rx="4" fill="#000" fill-opacity="0.044"/>
<rect x="163.1" y="587.8" width="19.2" height="7.0" rx="3" fill="#000" fill-opacity="0.194"/>
</g>
<rect x="114.3" y="528.6" width="73.3" height="78.5" fill="none" stroke="#1a1a1a" stroke-width="1.1"/>
<rect x="114.3" y="609.7" width="73.3" height="17.6" fill="#f4f4f4"/>
<g filter="url(#blT)">
<path d="M115.0,613.2 Q125.0,616.0 135.0,613.2 L134.2,621.8 Q125.0,624.0 115.8,621.8 Z" fill="url(#tub)"/>
<path d="M138.4,613.2 Q148.4,616.0 158.4,613.2 L157.6,621.8 Q148.4,624.0 139.20000000000002,621.8 Z" fill="url(#tub)"/>
<path d="M162.7,613.2 Q172.7,616.0 182.7,613.2 L181.89999999999998,621.8 Q172.7,624.0 163.5,621.8 Z" fill="url(#tub)"/>
</g>
<rect x="114.3" y="609.7" width="73.3" height="17.6" fill="none" stroke="#1a1a1a" stroke-width="1.1"/>
<text x="151.54999999999998" y="511.3" font-size="8" text-anchor="middle" fill="#231f20" stroke="#231f20" stroke-width="0.12">OPM-2</text>
<line x1="117.8" y1="515.2" x2="185.1" y2="515.2" stroke="#231f20" stroke-width="1.0"/>
<text x="125.0" y="525.6" font-size="8.2" text-anchor="middle" fill="#231f20" stroke="#231f20" stroke-width="0.12">ctr</text>
<text x="148.4" y="525.6" font-size="8.2" text-anchor="middle" fill="#231f20" stroke="#231f20" stroke-width="0.12">DEX</text>
<text x="173.2" y="525.6" font-size="8.2" text-anchor="middle" fill="#231f20" stroke="#231f20" stroke-width="0.12">S6K1i</text>
<rect x="189.7" y="528.6" width="67.90000000000003" height="78.5" fill="#fdfdfd"/>
<g filter="url(#blE)">
<rect x="189.7" y="533" width="21" height="70" fill="#000" fill-opacity="0.045"/>
<rect x="212.7" y="533" width="21" height="70" fill="#000" fill-opacity="0.045"/>
<rect x="234.6" y="533" width="21" height="70" fill="#000" fill-opacity="0.045"/>
<rect x="191.2" y="547" width="18" height="8" fill="#000" fill-opacity="0.140"/>
<rect x="214.2" y="547" width="18" height="8" fill="#000" fill-opacity="0.200"/>
<rect x="236.1" y="547" width="18" height="8" fill="#000" fill-opacity="0.100"/>
<rect x="191.2" y="581" width="18" height="7" fill="#000" fill-opacity="0.100"/>
<rect x="214.2" y="581" width="18" height="7" fill="#000" fill-opacity="0.140"/>
<rect x="236.1" y="581" width="18" height="7" fill="#000" fill-opacity="0.060"/>
<rect x="190.2" y="537.75" width="20" height="11.5" rx="4" fill="#000" fill-opacity="0.110"/>
<rect x="190.6" y="539.75" width="19.2" height="7.5" rx="3" fill="#000" fill-opacity="0.484"/>
<rect x="213.2" y="537.75" width="20" height="11.5" rx="4" fill="#000" fill-opacity="0.176"/>
<rect x="213.6" y="539.75" width="19.2" height="7.5" rx="3" fill="#000" fill-opacity="0.774"/>
<rect x="235.1" y="537.75" width="20" height="11.5" rx="4" fill="#000" fill-opacity="0.080"/>
<rect x="235.5" y="539.75" width="19.2" height="7.5" rx="3" fill="#000" fill-opacity="0.352"/>
<rect x="190.2" y="572.0" width="20" height="11.0" rx="4" fill="#000" fill-opacity="0.070"/>
<rect x="190.6" y="574.0" width="19.2" height="7.0" rx="3" fill="#000" fill-opacity="0.308"/>
<rect x="213.2" y="572.0" width="20" height="11.0" rx="4" fill="#000" fill-opacity="0.104"/>
<rect x="213.6" y="574.0" width="19.2" height="7.0" rx="3" fill="#000" fill-opacity="0.458"/>
<rect x="235.1" y="572.0" width="20" height="11.0" rx="4" fill="#000" fill-opacity="0.044"/>
<rect x="235.5" y="574.0" width="19.2" height="7.0" rx="3" fill="#000" fill-opacity="0.194"/>
<rect x="190.2" y="586.75" width="20" height="10.5" rx="4" fill="#000" fill-opacity="0.072"/>
<rect x="190.6" y="588.75" width="19.2" height="6.5" rx="3" fill="#000" fill-opacity="0.317"/>
<rect x="213.2" y="586.75" width="20" height="10.5" rx="4" fill="#000" fill-opacity="0.092"/>
<rect x="213.6" y="588.75" width="19.2" height="6.5" rx="3" fill="#000" fill-opacity="0.405"/>
<rect x="235.1" y="586.75" width="20" height="10.5" rx="4" fill="#000" fill-opacity="0.040"/>
<rect x="235.5" y="588.75" width="19.2" height="6.5" rx="3" fill="#000" fill-opacity="0.176"/>
</g>
<rect x="189.7" y="528.6" width="67.90000000000003" height="78.5" fill="none" stroke="#1a1a1a" stroke-width="1.1"/>
<rect x="189.7" y="609.7" width="67.90000000000003" height="17.6" fill="#f4f4f4"/>
<g filter="url(#blT)">
<path d="M190.2,613.2 Q200.2,616.0 210.2,613.2 L209.39999999999998,621.8 Q200.2,624.0 191.0,621.8 Z" fill="url(#tub)"/>
<path d="M213.2,613.2 Q223.2,616.0 233.2,613.2 L232.39999999999998,621.8 Q223.2,624.0 214.0,621.8 Z" fill="url(#tub)"/>
<path d="M235.1,613.2 Q245.1,616.0 255.1,613.2 L254.29999999999998,621.8 Q245.1,624.0 235.9,621.8 Z" fill="url(#tub)"/>
</g>
<rect x="189.7" y="609.7" width="67.90000000000003" height="17.6" fill="none" stroke="#1a1a1a" stroke-width="1.1"/>
<text x="224.25" y="511.3" font-size="8" text-anchor="middle" fill="#231f20" stroke="#231f20" stroke-width="0.12">L363</text>
<line x1="193.2" y1="515.2" x2="255.10000000000002" y2="515.2" stroke="#231f20" stroke-width="1.0"/>
<text x="200.2" y="525.6" font-size="8.2" text-anchor="middle" fill="#231f20" stroke="#231f20" stroke-width="0.12">ctr</text>
<text x="223.2" y="525.6" font-size="8.2" text-anchor="middle" fill="#231f20" stroke="#231f20" stroke-width="0.12">DEX</text>
<text x="245.6" y="525.6" font-size="8.2" text-anchor="middle" fill="#231f20" stroke="#231f20" stroke-width="0.12">S6K1i</text>
<text x="37.6" y="543.3" font-size="8" text-anchor="end" fill="#231f20">BIM<tspan font-size="5.2" dy="2">EL</tspan></text>
<text x="37.6" y="574.6" font-size="8" text-anchor="end" fill="#231f20">BIM<tspan font-size="5.2" dy="2">L</tspan></text>
<text x="37.6" y="591.6" font-size="8" text-anchor="end" fill="#231f20">BIM<tspan font-size="5.2" dy="2">S</tspan></text>
<text x="37.6" y="620.6" font-size="8" text-anchor="end" fill="#231f20" stroke="#231f20" stroke-width="0.12">α-tubulin</text>
<text x="270.2" y="504.6" font-size="11" font-weight="bold" fill="#000">F</text>
<line x1="300.5" y1="527.0" x2="300.5" y2="626.8" stroke="#231f20" stroke-width="1.1"/>
<line x1="300.0" y1="626.3" x2="512.0" y2="626.3" stroke="#231f20" stroke-width="1.1"/>
<line x1="297.6" y1="626.3" x2="300.5" y2="626.3" stroke="#231f20" stroke-width="0.9"/>
<text x="294.5" y="629.0999999999999" font-size="7.8" text-anchor="end" fill="#231f20" stroke="#231f20" stroke-width="0.12">0</text>
<line x1="297.6" y1="601.6999999999999" x2="300.5" y2="601.6999999999999" stroke="#231f20" stroke-width="0.9"/>
<text x="294.5" y="604.4999999999999" font-size="7.8" text-anchor="end" fill="#231f20" stroke="#231f20" stroke-width="0.12">1</text>
<line x1="297.6" y1="577.0999999999999" x2="300.5" y2="577.0999999999999" stroke="#231f20" stroke-width="0.9"/>
<text x="294.5" y="579.8999999999999" font-size="7.8" text-anchor="end" fill="#231f20" stroke="#231f20" stroke-width="0.12">2</text>
<line x1="297.6" y1="552.5" x2="300.5" y2="552.5" stroke="#231f20" stroke-width="0.9"/>
<text x="294.5" y="555.3" font-size="7.8" text-anchor="end" fill="#231f20" stroke="#231f20" stroke-width="0.12">3</text>
<line x1="297.6" y1="527.9" x2="300.5" y2="527.9" stroke="#231f20" stroke-width="0.9"/>
<text x="294.5" y="530.6999999999999" font-size="7.8" text-anchor="end" fill="#231f20" stroke="#231f20" stroke-width="0.12">4</text>
<line x1="300.5" y1="601.8" x2="512" y2="601.8" stroke="#333" stroke-width="1.0" stroke-dasharray="1.9,1.9" stroke-dashoffset="0.6"/>
<line x1="371.1" y1="527.5" x2="371.1" y2="626.3" stroke="#333" stroke-width="1.1" stroke-dasharray="4.6,4.5" stroke-dashoffset="2.1"/>
<line x1="442.0" y1="527.5" x2="442.0" y2="626.3" stroke="#333" stroke-width="1.1" stroke-dasharray="4.6,4.5" stroke-dashoffset="2.1"/>
<rect x="305.0" y="594.8119999999999" width="6.9" height="31.488000000000003" fill="#1c5189"/>
<line x1="308.45" y1="594.8119999999999" x2="308.45" y2="593.0899999999999" stroke="#333" stroke-width="0.9"/>
<line x1="306.45" y1="593.0899999999999" x2="310.45" y2="593.0899999999999" stroke="#333" stroke-width="0.9"/>
<rect x="314.0" y="593.0899999999999" width="6.9" height="33.21" fill="#3cb44b"/>
<line x1="317.45" y1="593.0899999999999" x2="317.45" y2="590.63" stroke="#333" stroke-width="0.9"/>
<line x1="315.45" y1="590.63" x2="319.45" y2="590.63" stroke="#333" stroke-width="0.9"/>
<line x1="312.95" y1="626.3" x2="312.95" y2="629.3" stroke="#231f20" stroke-width="1.1"/>
<rect x="327.6" y="586.9399999999999" width="6.9" height="39.36000000000001" fill="#1c5189"/>
<line x1="331.05" y1="586.9399999999999" x2="331.05" y2="580.0519999999999" stroke="#333" stroke-width="0.9"/>
<line x1="329.05" y1="580.0519999999999" x2="333.05" y2="580.0519999999999" stroke="#333" stroke-width="0.9"/>
<rect x="336.8" y="570.9499999999999" width="6.9" height="55.35" fill="#3cb44b"/>
<line x1="340.25" y1="570.9499999999999" x2="340.25" y2="562.3399999999999" stroke="#333" stroke-width="0.9"/>
<line x1="338.25" y1="562.3399999999999" x2="342.25" y2="562.3399999999999" stroke="#333" stroke-width="0.9"/>
<line x1="335.65000000000003" y1="626.3" x2="335.65000000000003" y2="629.3" stroke="#231f20" stroke-width="1.1"/>
<rect x="350.6" y="594.3199999999999" width="6.9" height="31.980000000000004" fill="#1c5189"/>
<line x1="354.05" y1="594.3199999999999" x2="354.05" y2="589.4" stroke="#333" stroke-width="0.9"/>
<line x1="352.05" y1="589.4" x2="356.05" y2="589.4" stroke="#333" stroke-width="0.9"/>
<rect x="360.0" y="586.9399999999999" width="6.9" height="39.36000000000001" fill="#3cb44b"/>
<line x1="363.45" y1="586.9399999999999" x2="363.45" y2="578.3299999999999" stroke="#333" stroke-width="0.9"/>
<line x1="361.45" y1="578.3299999999999" x2="365.45" y2="578.3299999999999" stroke="#333" stroke-width="0.9"/>
<line x1="358.75" y1="626.3" x2="358.75" y2="629.3" stroke="#231f20" stroke-width="1.1"/>
<rect x="375.4" y="579.56" width="6.9" height="46.74" fill="#1c5189"/>
<line x1="378.84999999999997" y1="579.56" x2="378.84999999999997" y2="572.18" stroke="#333" stroke-width="0.9"/>
<line x1="376.84999999999997" y1="572.18" x2="380.84999999999997" y2="572.18" stroke="#333" stroke-width="0.9"/>
<rect x="385.0" y="606.62" width="6.9" height="19.680000000000003" fill="#3cb44b"/>
<line x1="388.45" y1="606.62" x2="388.45" y2="602.192" stroke="#333" stroke-width="0.9"/>
<line x1="386.45" y1="602.192" x2="390.45" y2="602.192" stroke="#333" stroke-width="0.9"/>
<line x1="383.65" y1="626.3" x2="383.65" y2="629.3" stroke="#231f20" stroke-width="1.1"/>
<rect x="397.8" y="554.9599999999999" width="6.9" height="71.34" fill="#1c5189"/>
<line x1="401.25" y1="554.9599999999999" x2="401.25" y2="545.1199999999999" stroke="#333" stroke-width="0.9"/>
<line x1="399.25" y1="545.1199999999999" x2="403.25" y2="545.1199999999999" stroke="#333" stroke-width="0.9"/>
<rect x="407.6" y="609.0799999999999" width="6.9" height="17.22" fill="#3cb44b"/>
<line x1="411.05" y1="609.0799999999999" x2="411.05" y2="606.1279999999999" stroke="#333" stroke-width="0.9"/>
<line x1="409.05" y1="606.1279999999999" x2="413.05" y2="606.1279999999999" stroke="#333" stroke-width="0.9"/>
<line x1="406.15000000000003" y1="626.3" x2="406.15000000000003" y2="629.3" stroke="#231f20" stroke-width="1.1"/>
<rect x="421.0" y="574.64" width="6.9" height="51.660000000000004" fill="#1c5189"/>
<line x1="424.45" y1="574.64" x2="424.45" y2="567.752" stroke="#333" stroke-width="0.9"/>
<line x1="422.45" y1="567.752" x2="426.45" y2="567.752" stroke="#333" stroke-width="0.9"/>
<rect x="430.6" y="601.208" width="6.9" height="25.092000000000002" fill="#3cb44b"/>
<line x1="434.05" y1="601.208" x2="434.05" y2="598.01" stroke="#333" stroke-width="0.9"/>
<line x1="432.05" y1="598.01" x2="436.05" y2="598.01" stroke="#333" stroke-width="0.9"/>
<line x1="429.25" y1="626.3" x2="429.25" y2="629.3" stroke="#231f20" stroke-width="1.1"/>
<rect x="445.5" y="591.8599999999999" width="6.9" height="34.44" fill="#1c5189"/>
<line x1="448.95" y1="591.8599999999999" x2="448.95" y2="589.8919999999999" stroke="#333" stroke-width="0.9"/>
<line x1="446.95" y1="589.8919999999999" x2="450.95" y2="589.8919999999999" stroke="#333" stroke-width="0.9"/>
<rect x="455.0" y="606.62" width="6.9" height="19.680000000000003" fill="#3cb44b"/>
<line x1="458.45" y1="606.62" x2="458.45" y2="605.144" stroke="#333" stroke-width="0.9"/>
<line x1="456.45" y1="605.144" x2="460.45" y2="605.144" stroke="#333" stroke-width="0.9"/>
<line x1="453.7" y1="626.3" x2="453.7" y2="629.3" stroke="#231f20" stroke-width="1.1"/>
<rect x="467.8" y="566.03" width="6.9" height="60.27000000000001" fill="#1c5189"/>
<line x1="471.25" y1="566.03" x2="471.25" y2="563.078" stroke="#333" stroke-width="0.9"/>
<line x1="469.25" y1="563.078" x2="473.25" y2="563.078" stroke="#333" stroke-width="0.9"/>
<rect x="477.7" y="598.7479999999999" width="6.9" height="27.552000000000003" fill="#3cb44b"/>
<line x1="481.15" y1="598.7479999999999" x2="481.15" y2="594.3199999999999" stroke="#333" stroke-width="0.9"/>
<line x1="479.15" y1="594.3199999999999" x2="483.15" y2="594.3199999999999" stroke="#333" stroke-width="0.9"/>
<line x1="476.2" y1="626.3" x2="476.2" y2="629.3" stroke="#231f20" stroke-width="1.1"/>
<rect x="490.9" y="586.9399999999999" width="6.9" height="39.36000000000001" fill="#1c5189"/>
<line x1="494.34999999999997" y1="586.9399999999999" x2="494.34999999999997" y2="583.9879999999999" stroke="#333" stroke-width="0.9"/>
<line x1="492.34999999999997" y1="583.9879999999999" x2="496.34999999999997" y2="583.9879999999999" stroke="#333" stroke-width="0.9"/>
<rect x="500.5" y="604.6519999999999" width="6.9" height="21.648" fill="#3cb44b"/>
<line x1="503.95" y1="604.6519999999999" x2="503.95" y2="600.962" stroke="#333" stroke-width="0.9"/>
<line x1="501.95" y1="600.962" x2="505.95" y2="600.962" stroke="#333" stroke-width="0.9"/>
<line x1="499.15" y1="626.3" x2="499.15" y2="629.3" stroke="#231f20" stroke-width="1.1"/>
<line x1="300.0" y1="626.3" x2="512.0" y2="626.3" stroke="#231f20" stroke-width="1.1"/>
<text x="313.25" y="638.0" font-size="7.7" text-anchor="middle" fill="#231f20">BIM<tspan font-size="5" dy="2">EL</tspan></text>
<text x="335.95000000000005" y="638.0" font-size="7.7" text-anchor="middle" fill="#231f20">BIM<tspan font-size="5" dy="2">L</tspan></text>
<text x="359.05" y="638.0" font-size="7.7" text-anchor="middle" fill="#231f20">BIM<tspan font-size="5" dy="2">S</tspan></text>
<text x="383.95" y="638.0" font-size="7.7" text-anchor="middle" fill="#231f20">BIM<tspan font-size="5" dy="2">EL</tspan></text>
<text x="406.45000000000005" y="638.0" font-size="7.7" text-anchor="middle" fill="#231f20">BIM<tspan font-size="5" dy="2">L</tspan></text>
<text x="429.55" y="638.0" font-size="7.7" text-anchor="middle" fill="#231f20">BIM<tspan font-size="5" dy="2">S</tspan></text>
<text x="454.0" y="638.0" font-size="7.7" text-anchor="middle" fill="#231f20">BIM<tspan font-size="5" dy="2">EL</tspan></text>
<text x="476.5" y="638.0" font-size="7.7" text-anchor="middle" fill="#231f20">BIM<tspan font-size="5" dy="2">L</tspan></text>
<text x="499.45" y="638.0" font-size="7.7" text-anchor="middle" fill="#231f20">BIM<tspan font-size="5" dy="2">S</tspan></text>
<text x="301.3" y="505.2" font-size="8" fill="#231f20" stroke="#231f20" stroke-width="0.12">MM1.s</text>
<text x="371.6" y="505.2" font-size="8" fill="#231f20" stroke="#231f20" stroke-width="0.12">OPM-2</text>
<text x="441.9" y="505.2" font-size="8" fill="#231f20" stroke="#231f20" stroke-width="0.12">L363</text>
<rect x="301.3" y="517.0" width="8.8" height="5.6" fill="#1c5189"/>
<text x="313.0" y="522.6" font-size="8" fill="#231f20" stroke="#231f20" stroke-width="0.12">DEX</text>
<rect x="335.0" y="517.0" width="9.5" height="5.6" fill="#3cb44b"/>
<text x="347.0" y="522.6" font-size="8" fill="#231f20" stroke="#231f20" stroke-width="0.12">S6K1i</text>
<line x1="305.0" y1="542.6" x2="321.4" y2="542.6" stroke="#231f20" stroke-width="0.9"/>
<text x="312.95" y="539.8" font-size="7.4" font-style="italic" text-anchor="middle" fill="#231f20" stroke="#231f20" stroke-width="0.12">ns</text>
<line x1="327.6" y1="542.6" x2="344.2" y2="542.6" stroke="#231f20" stroke-width="0.9"/>
<text x="335.65000000000003" y="539.8" font-size="7.4" font-style="italic" text-anchor="middle" fill="#231f20" stroke="#231f20" stroke-width="0.12">ns</text>
<line x1="350.6" y1="542.6" x2="367.4" y2="542.6" stroke="#231f20" stroke-width="0.9"/>
<text x="358.75" y="539.8" font-size="7.4" font-style="italic" text-anchor="middle" fill="#231f20" stroke="#231f20" stroke-width="0.12">ns</text>
<line x1="375.4" y1="542.4" x2="392.2" y2="542.4" stroke="#231f20" stroke-width="0.9"/>
<text transform="translate(386.75,541.2) rotate(-90)" font-size="8.2" letter-spacing="0.2" font-style="italic" fill="#231f20" stroke="#231f20" stroke-width="0.12">p=0.02</text>
<line x1="397.8" y1="542.4" x2="414.8" y2="542.4" stroke="#231f20" stroke-width="0.9"/>
<text transform="translate(409.25000000000006,541.2) rotate(-90)" font-size="8.2" letter-spacing="0.2" font-style="italic" fill="#231f20" stroke="#231f20" stroke-width="0.12">p=&lt;0.001</text>
<line x1="421.0" y1="542.4" x2="437.8" y2="542.4" stroke="#231f20" stroke-width="0.9"/>
<text transform="translate(432.35,541.2) rotate(-90)" font-size="8.2" letter-spacing="0.2" font-style="italic" fill="#231f20" stroke="#231f20" stroke-width="0.12">p=&lt;0.03</text>
<line x1="445.5" y1="542.4" x2="462.2" y2="542.4" stroke="#231f20" stroke-width="0.9"/>
<text transform="translate(456.8,541.2) rotate(-90)" font-size="8.2" letter-spacing="0.2" font-style="italic" fill="#231f20" stroke="#231f20" stroke-width="0.12">p=0.003</text>
<line x1="467.8" y1="542.4" x2="484.9" y2="542.4" stroke="#231f20" stroke-width="0.9"/>
<text transform="translate(479.3,541.2) rotate(-90)" font-size="8.2" letter-spacing="0.2" font-style="italic" fill="#231f20" stroke="#231f20" stroke-width="0.12">p=&lt;0.001</text>
<line x1="490.9" y1="542.4" x2="507.7" y2="542.4" stroke="#231f20" stroke-width="0.9"/>
<text transform="translate(502.25,541.2) rotate(-90)" font-size="8.2" letter-spacing="0.2" font-style="italic" fill="#231f20" stroke="#231f20" stroke-width="0.12">p=0.001</text>
<text transform="translate(273.7,577.2) rotate(-90)" font-size="9.8" text-anchor="middle" fill="#231f20" stroke="#231f20" stroke-width="0.3" textLength="45" lengthAdjust="spacingAndGlyphs">BIM expression</text>
<text transform="translate(283.0,578.0) rotate(-90)" font-size="9.6" text-anchor="middle" fill="#231f20" stroke="#231f20" stroke-width="0.3" textLength="84" lengthAdjust="spacingAndGlyphs">(fold change rel. to control)</text>
<rect x="0" y="0" width="520" height="1" fill="#000"/>
<rect x="0" y="0" width="1.1" height="649" fill="#000"/>
<rect x="518.9" y="0" width="1.1" height="649" fill="#000"/>
<rect x="0" y="647.2" width="520" height="1.8" fill="#000"/>
</svg>
</body></html>
